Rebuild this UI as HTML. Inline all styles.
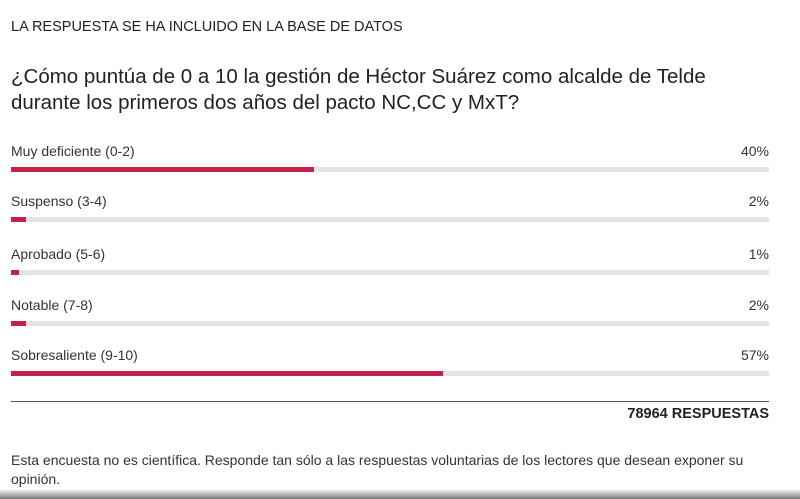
<!DOCTYPE html>
<html><head><meta charset="utf-8"><style>
body{margin:0;width:800px;height:499px;background:#fff;font-family:"Liberation Sans",sans-serif;color:#333;position:relative;overflow:hidden}
.a{position:absolute;white-space:nowrap}
.track{position:absolute;left:11px;width:758px;height:5px;background:#e4e4e4}
.fill{position:absolute;left:0;top:0;height:5px;background:#c4224a}
</style></head><body>
<div class="a" style="left:11px;top:19px;font-size:14.5px;color:#222">LA RESPUESTA SE HA INCLUIDO EN LA BASE DE DATOS</div>
<div class="a" style="left:11px;top:64px;font-size:20.5px;line-height:26px;color:#222">¿Cómo puntúa de 0 a 10 la gestión de Héctor Suárez como alcalde de Telde<br>durante los primeros dos años del pacto NC,CC y MxT?</div>
<div id="chart"></div>
<div class="a" style="left:11px;top:401px;width:758px;height:1px;background:#555"></div>
<div class="a" style="right:31px;top:406px;font-size:14.5px;font-weight:bold;color:#222">78964 RESPUESTAS</div>
<div class="a" style="left:11px;top:451px;font-size:14px;line-height:19px;color:#333">Esta encuesta no es científica. Responde tan sólo a las respuestas voluntarias de los lectores que desean exponer su<br>opinión.</div>
<div class="a" style="left:0;top:489px;width:800px;height:10px;background:linear-gradient(#fff,#777)"></div>
<script>
const categories=["Muy deficiente (0-2)","Suspenso (3-4)","Aprobado (5-6)","Notable (7-8)","Sobresaliente (9-10)"];
const values=[40,2,1,2,57];
const labelsPct=["40%","2%","1%","2%","57%"];
const tops=[143,193,246,297,347];
const c=document.getElementById('chart');
categories.forEach((cat,i)=>{
  const y=tops[i];
  const l=document.createElement('div');l.className='a';l.style.left='11px';l.style.top=y+'px';l.style.fontSize='14px';l.textContent=cat;
  
  
  c.appendChild(l);
  const p=document.createElement('div');p.className='a';p.style.right='31px';p.style.top=y+'px';p.style.fontSize='14px';p.textContent=labelsPct[i];
  
  
  c.appendChild(p);
  const t=document.createElement('div');t.className='track';t.style.top=(y+24)+'px';
  
  
  const f=document.createElement('div');f.className='fill';f.style.width=(758*values[i]/100)+'px';
  
  
  t.appendChild(f);c.appendChild(t);
});
</script>
</body></html>
